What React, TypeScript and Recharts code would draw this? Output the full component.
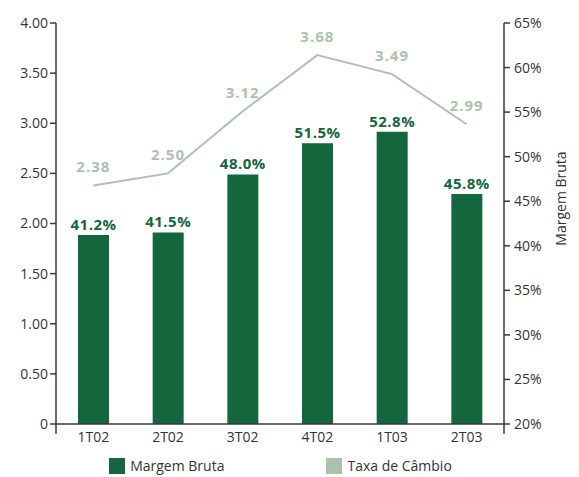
import React from "react";
import {
  Bar,
  ComposedChart,
  LabelList,
  Legend,
  Line,
  XAxis,
  YAxis,
  usePlotArea,
} from "recharts";

const quarters = ["1T02", "2T02", "3T02", "4T02", "1T03", "2T03"];
const margemBruta = [41.2, 41.5, 48.0, 51.5, 52.8, 45.8];
const taxaCambio = [2.38, 2.5, 3.12, 3.68, 3.49, 2.99];

const leftTicks = [0, 0.5, 1, 1.5, 2, 2.5, 3, 3.5, 4];
const rightTicks = [20, 25, 30, 35, 40, 45, 50, 55, 60, 65];

const BAR_COLOR = "#14663c";
const LINE_COLOR = "#adc2ad";
const AXIS_COLOR = "#3a3a3a";
const FONT = "'Open Sans', 'DejaVu Sans', sans-serif";

const data = quarters.map((q, i) => ({
  quarter: q,
  margem: margemBruta[i],
  cambio: taxaCambio[i],
}));

// short stubs where both value axes run past the category axis
function AxisStubs() {
  const area = usePlotArea();
  if (!area) return null;
  const bottom = area.y + area.height;
  return (
    <g stroke={AXIS_COLOR} strokeWidth={1.5}>
      <line x1={area.x} y1={bottom} x2={area.x} y2={bottom + 10} />
      <line
        x1={area.x + area.width}
        y1={bottom}
        x2={area.x + area.width}
        y2={bottom + 10}
      />
    </g>
  );
}

function LegendContent() {
  const items = [
    { label: "Margem Bruta", color: BAR_COLOR },
    { label: "Taxa de Câmbio", color: LINE_COLOR },
  ];
  return (
    <div
      style={{
        display: "flex",
        justifyContent: "center",
        gap: 102,
        paddingRight: 18,
        paddingTop: 2,
        fontFamily: FONT,
        fontSize: 14,
        color: "#333",
      }}
    >
      {items.map((item) => (
        <div key={item.label} style={{ display: "flex", alignItems: "center" }}>
          <span
            style={{
              width: 16,
              height: 16,
              background: item.color,
              marginRight: 5,
              display: "inline-block",
            }}
          />
          <span>{item.label}</span>
        </div>
      ))}
    </div>
  );
}

function RightAxisTitle(props: any) {
  const vb = props.viewBox || {};
  const x = vb.x + vb.width - 19;
  const y = vb.y + vb.height / 2 - 25;
  return (
    <text
      x={x}
      y={y}
      transform={`rotate(-90, ${x}, ${y})`}
      textAnchor="middle"
      dominantBaseline="central"
      fontFamily={FONT}
      fontSize={14}
      fill="#333"
    >
      Margem Bruta
    </text>
  );
}

export default function App() {
  const tickStyle = { fontFamily: FONT, fontSize: 14, fill: "#333" };
  return (
    <div style={{ position: "absolute", left: 0, top: 0, background: "#fff" }}>
      <ComposedChart
        width={579}
        height={477}
        data={data}
        margin={{ top: 23, right: 0, bottom: 0, left: 0 }}
      >
        <XAxis
          dataKey="quarter"
          height={30}
          tickLine={false}
          axisLine={{ stroke: AXIS_COLOR, strokeWidth: 1.5 }}
          tick={tickStyle}
        />
        <YAxis
          yAxisId="left"
          width={56}
          domain={[0, 4]}
          ticks={leftTicks}
          tickFormatter={(v: number) => (v === 0 ? "0" : v.toFixed(2))}
          tickSize={6}
          tickMargin={2}
          tickLine={{ stroke: AXIS_COLOR, strokeWidth: 1.5 }}
          axisLine={{ stroke: AXIS_COLOR, strokeWidth: 1.5 }}
          tick={tickStyle}
        />
        <YAxis
          yAxisId="right"
          orientation="right"
          width={75}
          domain={[20, 65]}
          ticks={rightTicks}
          tickFormatter={(v: number) => `${v}%`}
          tickSize={6}
          tickMargin={4}
          tickLine={{ stroke: AXIS_COLOR, strokeWidth: 1.5 }}
          axisLine={{ stroke: AXIS_COLOR, strokeWidth: 1.5 }}
          tick={{ ...tickStyle, textAnchor: "start" }}
          label={{ content: RightAxisTitle }}
        />
        <Bar
          yAxisId="right"
          dataKey="margem"
          name="Margem Bruta"
          fill={BAR_COLOR}
          barSize={31}
          isAnimationActive={false}
        >
          <LabelList
            dataKey="margem"
            position="top"
            offset={5}
            formatter={(v: any) => `${Number(v).toFixed(1)}%`}
            style={{
              fontFamily: FONT,
              fontSize: 15,
              fontWeight: 700,
              fill: BAR_COLOR,
              letterSpacing: 0.5,
            }}
          />
        </Bar>
        <Line
          yAxisId="left"
          dataKey="cambio"
          name="Taxa de Câmbio"
          stroke={LINE_COLOR}
          strokeWidth={2}
          dot={false}
          activeDot={false}
          isAnimationActive={false}
        >
          <LabelList
            dataKey="cambio"
            position="top"
            offset={13}
            formatter={(v: any) => Number(v).toFixed(2)}
            style={{
              fontFamily: FONT,
              fontSize: 15,
              fontWeight: 700,
              fill: LINE_COLOR,
              letterSpacing: 1,
            }}
          />
        </Line>
        <Legend verticalAlign="bottom" height={23} content={LegendContent} />
        <AxisStubs />
      </ComposedChart>
    </div>
  );
}
